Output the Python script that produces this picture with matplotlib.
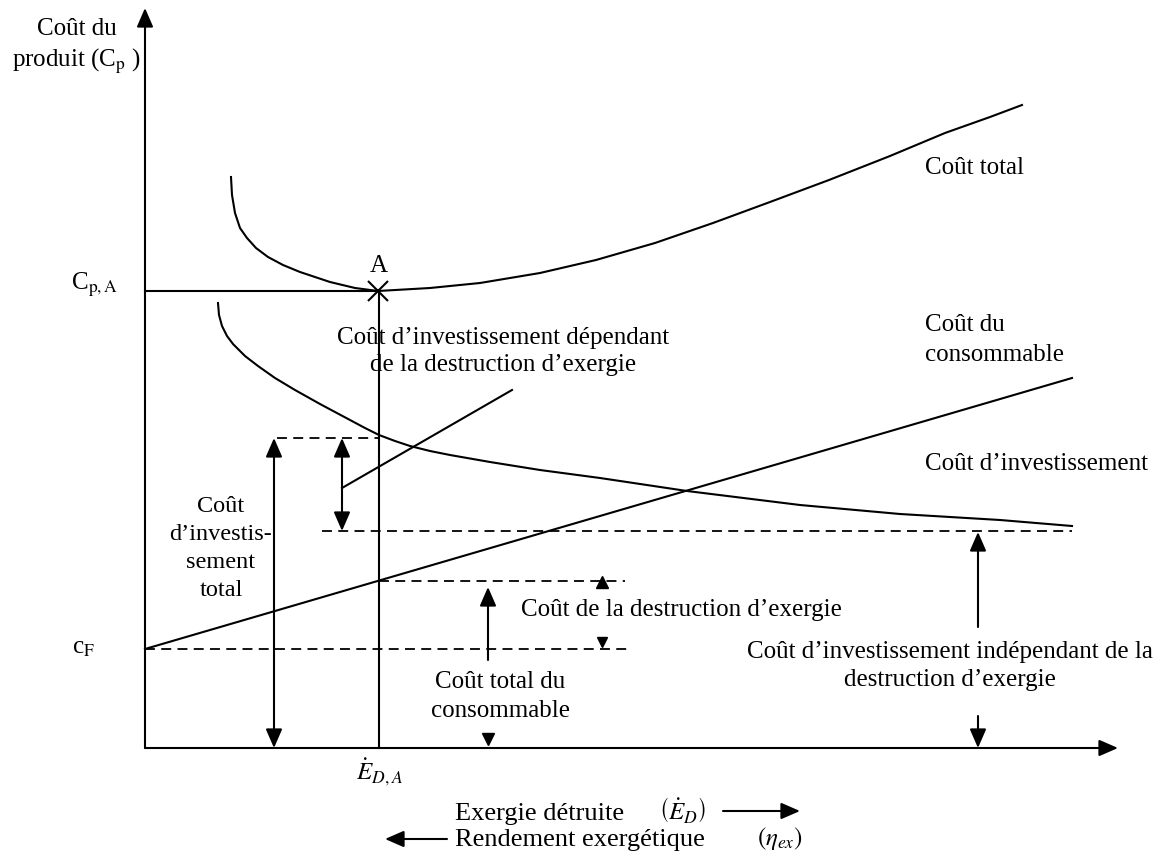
import matplotlib
matplotlib.use("Agg")
import matplotlib.pyplot as plt
from matplotlib.patches import FancyArrowPatch

plt.rcParams['font.family'] = ['Liberation Serif', 'DejaVu Serif']
plt.rcParams['mathtext.fontset'] = 'stix'

# schematic drawn in picture units (x to the right, y downwards)
x_axis_y = 748
y_axis_x = 145

# curves
total_x = [231, 232, 235, 240, 247, 256, 268, 283, 300, 330, 355, 378, 430, 480, 540, 596, 655, 713, 770, 829, 890, 945, 990, 1022]
total_y = [177, 195, 213, 228, 238, 248, 257, 265, 272, 282, 288, 291, 288, 283, 273, 260, 243, 223, 202, 180, 156, 133, 117, 105]

invest_x = [218, 219, 222, 227, 233, 245, 258, 275, 295, 320, 335, 350, 365, 379, 395, 410, 430, 450, 490, 540, 600, 687, 800, 900, 1000, 1072]
invest_y = [303, 315, 326, 336, 344, 356, 366, 378, 390, 404, 412, 420, 428, 435, 441, 446, 451, 455, 462, 470, 478, 491, 505, 514, 520, 526]

fuel_x = [145, 1072]
fuel_y = [649, 378]

# point A (optimum)
A_x, A_y = 378, 291

# dashed guide lines: (y, x_start, x_end)
dashed = [(438, 277, 379), (531, 322, 1072), (581, 379, 625), (649, 145, 627)]

fig = plt.figure(figsize=(11.71, 8.57), dpi=100)
ax = fig.add_axes([0, 0, 1, 1])
ax.set_xlim(0, 1171)
ax.set_ylim(857, 0)
ax.axis('off')

LW = 1.5
FS = 18


def arrow(x0, y0, x1, y1, style="-|>", lw=LW):
    a = FancyArrowPatch((x0, y0), (x1, y1),
                        arrowstyle=style + ",head_length=1.15,head_width=0.5",
                        mutation_scale=10, color='k', lw=lw,
                        shrinkA=0, shrinkB=0)
    ax.add_patch(a)


# axes with arrows
arrow(y_axis_x, x_axis_y, y_axis_x, 8)
arrow(y_axis_x, x_axis_y, 1118, x_axis_y)

# curves
ax.plot(total_x, total_y, 'k-', lw=LW)
ax.plot(invest_x, invest_y, 'k-', lw=LW)
ax.plot(fuel_x, fuel_y, 'k-', lw=LW)

# C_p,A line, vertical at A and the cross
ax.plot([y_axis_x, A_x], [A_y, A_y], 'k-', lw=LW)
ax.plot([A_x + 1, A_x + 1], [A_y, x_axis_y], 'k-', lw=LW)
ax.plot(A_x, A_y, 'kx', ms=14, mew=1.5)

for yy, xa, xb in dashed:
    ax.plot([xa, xb], [yy, yy], 'k--', lw=1.3, dashes=(5.5, 3.5))

# double arrows
arrow(274, 438, 274, x_axis_y, style="<|-|>")
arrow(342, 438, 342, 531, style="<|-|>")
ax.plot([342, 512], [488, 390], 'k-', lw=LW)

# single arrows
arrow(488, 660, 488, 587)
arrow(978, 627, 978, 532)
arrow(978, 716, 978, x_axis_y)

# small markers
ax.plot(602, 582, 'k^', ms=8.5)
ax.plot(602, 642, 'kv', ms=6.5)
ax.plot(488, 739, 'kv', ms=8.5)

# texts
def t(x, y, s, ha='center', size=FS):
    ax.text(x, y, s, ha=ha, va='center', fontsize=size)


t(77, 29, "Coût du")
t(77, 61, r"produit (C$_{\mathrm{p}}$ )")
t(95, 285, r"C$_{\mathrm{p,A}}$")
t(83, 648, r"c$_{\mathrm{F}}$")
t(379, 266, "A")
t(925, 168, "Coût total", ha='left')
t(925, 325, "Coût du", ha='left')
t(925, 355, "consommable", ha='left')
t(925, 464, "Coût d’investissement", ha='left')
t(503, 338, "Coût d’investissement dépendant")
t(503, 365, "de la destruction d’exergie")
for yy, s in zip([507, 535, 562, 590], ["Coût", "d’investis-", "sement", "total"]):
    t(221, yy, s, size=17.5)
t(681, 610, "Coût de la destruction d’exergie")
t(500, 682, "Coût total du")
t(500, 711, "consommable")
t(950, 652, "Coût d’investissement indépendant de la")
t(950, 680, "destruction d’exergie")

t(380, 772, r"$\dot{E}_{D,A}$", size=18)
t(455, 814, "Exergie détruite", ha='left', size=19)
t(683, 810, r"$\left(\dot{E}_{D}\right)$", size=18)
arrow(723, 811, 800, 811)
t(455, 840, "Rendement exergétique", ha='left', size=19)
t(780, 838, r"$\left(\eta_{ex}\right)$", size=18)
arrow(447, 839, 385, 839)

fig.savefig("out.png", dpi=100)
